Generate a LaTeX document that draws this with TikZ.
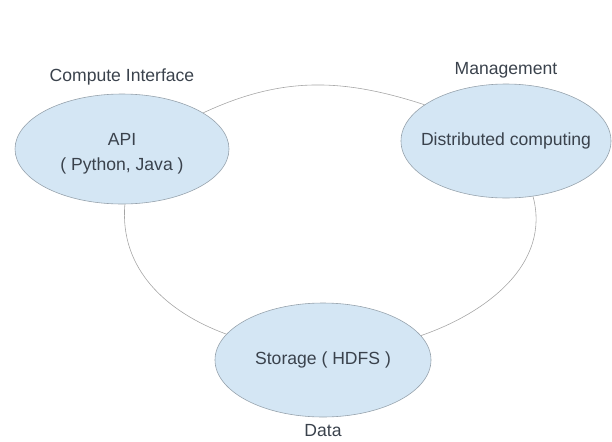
\documentclass[tikz,border=0pt]{standalone}
\usepackage{fontspec}
\setmainfont{Liberation Sans}
\usetikzlibrary{positioning,shapes.geometric}
\definecolor{blobfill}{RGB}{212,230,244}
\definecolor{blobline}{RGB}{150,162,172}
\definecolor{linkgray}{RGB}{165,165,165}
\definecolor{inkgray}{RGB}{58,66,76}

\begin{document}
\begin{tikzpicture}
    [x=0.03cm, y=-0.03cm,
     font=\fontsize{15}{21}\selectfont, text=inkgray,
     blob/.style={ellipse, fill=blobfill, draw=blobline, line width=0.5pt,
                  inner sep=0, minimum height=3.3cm},
     inside/.style={align=center},
     title/.style={inner sep=0, text height=1.5ex, text depth=.25ex},
     link/.style={draw=linkgray, line width=0.5pt}]
    \useasboundingbox (0,0) rectangle (612,441);

    \node[blob, minimum width=6.42cm,
          label={[inside, yshift=-1.5mm]center:API\\( Python, Java )}]
        (api) at (122,149) {};
    \node[blob, minimum width=6.3cm, minimum height=3.42cm,
          label={[inside]center:Distributed computing}]
        (dist) at (506,141) {};
    \node[blob, minimum width=6.48cm, minimum height=3.42cm,
          label={[inside]center:Storage ( HDFS )}]
        (storage) at (323,360) {};

    \node[title, above=3.1mm of api] (apititle) {Compute Interface};
    \node[title, above=2.2mm of dist] (disttitle) {Management};
    \node[title, below=3mm of storage] (storagetitle) {Data};

    \draw[link] (api.24) to[out=25, in=162] (dist.156);
    \draw[link] (api.-87) to[out=-95, in=160] (storage.165);
    \draw[link] (dist.-64) to[out=-75, in=19] (storage.14);
\end{tikzpicture}
\end{document}
